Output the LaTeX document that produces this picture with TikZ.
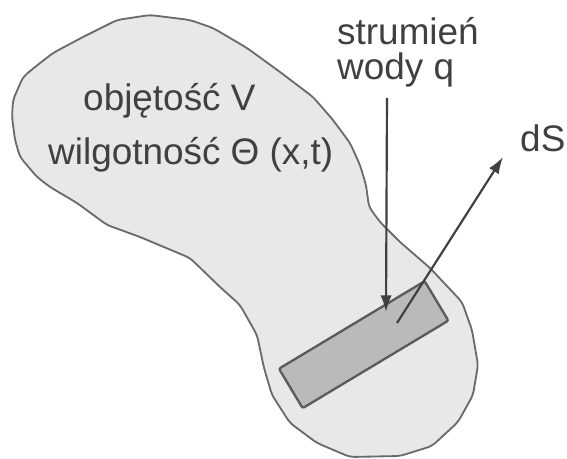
\documentclass[tikz,border=0pt]{standalone}
\usepackage{fontspec}
\setmainfont{Liberation Sans}
\usetikzlibrary{arrows.meta}

\definecolor{tekst}{gray}{0.25}
\definecolor{obrys}{gray}{0.42}
\definecolor{wnetrze}{gray}{0.91}
\definecolor{powierzchnia}{gray}{0.73}

\begin{document}
\begin{tikzpicture}[
  font=\fontsize{31.5}{31.5}\selectfont,
  etykieta/.style={anchor=base west, text=tekst, inner sep=0pt},
  obszar/.style={draw=obrys, fill=wnetrze, line width=0.55mm, rounded corners=1.5mm},
  element/.style={rectangle, draw=obrys!85!black, fill=powierzchnia, line width=0.7mm,
    rounded corners=0.6mm, minimum width=5.1cm, minimum height=1.38cm, rotate=31},
  strz/.style={-{Latex[length=5mm, width=3.4mm]}, draw=tekst, line width=0.65mm}
]
\useasboundingbox (0,0) rectangle (17.01,13.74);

%% ===== obszar V =====
\draw[obszar] (0.36,10.23) -- (0.39,10.74) -- (0.69,11.43) -- (1.05,11.73)
  -- (1.59,12.15) -- (2.49,12.63) -- (3.51,13.14) -- (4.50,13.29) -- (5.70,13.14)
  -- (6.39,12.90) -- (7.41,12.30) -- (8.40,11.58) -- (9.39,10.83) -- (9.99,10.14)
  -- (10.50,9.45) -- (10.80,8.79) -- (10.98,8.19) -- (11.07,7.53) -- (11.40,7.08)
  -- (12.00,6.48) -- (12.90,5.70) -- (13.86,4.68) -- (14.16,3.84) -- (14.34,2.79)
  -- (14.19,1.89) -- (13.74,1.08) -- (12.96,0.36) -- (12.00,0.06) -- (10.50,0.03)
  -- (9.51,0.45) -- (8.70,1.05) -- (8.16,1.89) -- (7.92,2.70) -- (7.71,3.69)
  -- (7.20,4.59) -- (6.60,5.13) -- (5.70,6.00) -- (4.20,6.63) -- (3.21,6.99)
  -- (2.31,7.65) -- (1.50,8.13) -- (1.11,8.43) -- (0.60,9.03) -- (0.45,9.54) -- cycle;

\node[etykieta] (obj) at (2.49,10.41) {objętość V};
\node[etykieta] (wilg) at (1.44,8.79) {wilgotność Θ (x,t)};

%% ===== element powierzchni dS =====
\node[element] (pow) at (10.91,3.40) {};

%% ===== strumien i normalna =====
\node[etykieta] (strum) at (10.11,12.39) {strumień};
\node[etykieta] (wody) at (10.11,11.34) {wody q};
\node[etykieta] (ds) at (15.60,9.18) {dS};

\coordinate (q0) at (11.61,10.80);
\coordinate (q1) at (11.58,4.38);
\coordinate (n0) at (11.91,4.05);
\coordinate (n1) at (15.09,9.03);

\draw[strz] (q0) -- (q1);
\draw[strz] (n0) -- (n1);
\end{tikzpicture}
\end{document}
